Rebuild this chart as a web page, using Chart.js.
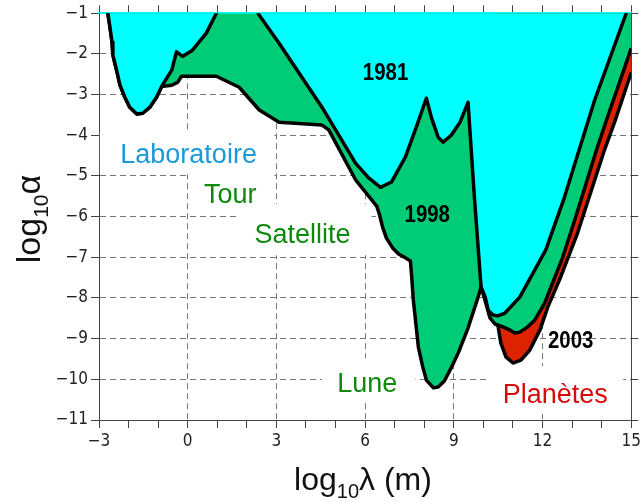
<!DOCTYPE html>
<html>
<head>
<meta charset="utf-8">
<script src="https://cdn.jsdelivr.net/npm/chart.js@4.4.0/dist/chart.umd.min.js"></script>
<style>
  html, body { margin: 0; padding: 0; background: #fff; }
</style>
</head>
<body>
<canvas id="chart" width="644" height="502"></canvas>
<script>
/* Excluded regions, log10(lambda) vs log10(alpha) */
const lambda1981 = [-3.0, -2.70, -2.63, -2.56, -2.53, -2.39, -2.29, -2.13, -1.96, -1.72, -1.52, -1.28, -1.05, -0.88, -0.54, -0.38, -0.17, 0.16, 0.63, 0.97, 1.70, 2.42, 3.09, 4.54, 5.68, 6.12, 6.52, 6.89, 7.36, 7.73, 8.07, 8.24, 8.47, 8.64, 8.91, 9.21, 9.48, 9.69, 9.92, 10.06, 10.16, 10.32, 10.49, 10.73, 11.23, 12.11, 12.71, 13.76, 14.83, 15.0];
const alpha1981 = [-0.3, -1.0, -1.34, -1.71, -2.03, -2.45, -2.77, -3.06, -3.31, -3.48, -3.46, -3.31, -3.06, -2.80, -2.40, -1.95, -2.06, -1.91, -1.49, -1.0, -0.2, -1.05, -1.74, -3.31, -4.69, -5.05, -5.28, -5.15, -4.54, -3.80, -3.09, -3.56, -4.05, -4.17, -4.00, -3.68, -3.19, -5.47, -7.73, -7.98, -8.30, -8.42, -8.44, -8.37, -7.98, -6.82, -5.59, -3.14, -1.0, -0.66];

const lambda1998 = [-3.0, -2.70, -2.63, -2.56, -2.53, -2.39, -2.29, -2.13, -1.96, -1.72, -1.52, -1.28, -1.05, -0.88, -0.54, -0.34, -0.21, 0.97, 1.74, 2.42, 3.09, 4.54, 4.77, 5.68, 6.22, 6.39, 6.49, 6.59, 6.72, 6.93, 7.13, 7.33, 7.53, 7.57, 7.63, 7.80, 7.94, 8.07, 8.31, 8.47, 8.68, 8.91, 9.15, 9.48, 9.82, 9.92, 10.09, 10.22, 10.39, 10.66, 10.90, 11.06, 11.23, 11.50, 11.74, 12.07, 12.68, 13.12, 13.82, 14.16, 15.0];
const alpha1998 = [-0.3, -1.0, -1.34, -1.71, -2.03, -2.45, -2.77, -3.06, -3.31, -3.48, -3.46, -3.31, -3.06, -2.80, -2.77, -2.70, -2.55, -2.55, -2.82, -3.38, -3.68, -3.75, -3.87, -5.10, -5.59, -5.74, -5.96, -6.26, -6.53, -6.77, -6.92, -7.0, -7.09, -7.44, -8.05, -9.21, -9.67, -10.02, -10.21, -10.19, -10.04, -9.72, -9.35, -8.74, -7.98, -7.73, -8.15, -8.49, -8.64, -8.71, -8.79, -8.86, -8.84, -8.71, -8.54, -8.13, -7.0, -6.01, -4.37, -3.63, -1.86];

const lambda2003 = [10.49, 10.59, 10.76, 11.0, 11.27, 11.57, 11.91, 12.18, 12.61, 13.18, 14.09, 14.46, 15.0];
const alpha2003 = [-8.67, -9.11, -9.45, -9.60, -9.53, -9.28, -8.79, -8.22, -7.49, -6.41, -4.37, -3.63, -2.45];

const xRange = [-3, 15];
const yRange = [-11, -1];

/* text labels, in data coordinates */
const zoneNames = ['Laboratoire', 'Tour', 'Satellite', 'Lune', 'Planètes'];
const zoneX = [0.03, 1.44, 3.88, 6.07, 12.43];
const zoneY = [-4.69, -5.67, -6.65, -10.31, -10.58];
const zoneColors = ['#1a9ad6', '#0b8a0b', '#0b8a0b', '#0b8a0b', '#d50c0c'];
const yearNames = ['1981', '1998', '2003'];
const yearX = [6.69, 8.10, 12.95];
const yearY = [-2.65, -6.14, -9.23];
// white patches behind the zone names: [x0, x1, yTop, yBottom]
const labelBoxes = [
    [-2.97, 2.93, -3.90, -4.96],
    [0.06, 2.93, -4.91, -5.79],
    [1.64, 6.22, -5.69, -6.95],
    [4.54, 7.70, -9.48, -10.56],
    [10.09, 14.73, -9.67, -10.85]
];

const FONT = '"Liberation Sans", Arial, sans-serif';
const TICK_FONT = '"DejaVu Sans Condensed", "DejaVu Sans", sans-serif';
const CLEAR = 'rgba(0,0,0,0)';

function toPoints(xs, ys) {
    return xs.map((x, i) => ({ x: x, y: ys[i] }));
}

function fmt(v) {
    return v < 0 ? '\u2212' + Math.abs(v) : String(v);
}

/* Text with a subscript, centred on cx */
function drawSubText(ctx, parts, cx, cy) {
    let w = 0;
    parts.forEach(p => {
        ctx.font = p[1] + 'px ' + FONT;
        w += ctx.measureText(p[0]).width;
    });
    let x = cx - w / 2;
    ctx.textAlign = 'left';
    ctx.textBaseline = 'alphabetic';
    parts.forEach(p => {
        ctx.font = p[1] + 'px ' + FONT;
        ctx.fillText(p[0], x, cy + p[2]);
        x += ctx.measureText(p[0]).width;
    });
}

const labelPlugin = {
    id: 'labelPlugin',
    afterDraw(chart) {
        const ctx = chart.ctx;
        const xs = chart.scales.x;
        const ys = chart.scales.y;
        ctx.save();

        ctx.fillStyle = '#fff';
        labelBoxes.forEach(b => {
            const x0 = xs.getPixelForValue(b[0]);
            const x1 = xs.getPixelForValue(b[1]);
            const y0 = ys.getPixelForValue(b[2]);
            const y1 = ys.getPixelForValue(b[3]);
            ctx.fillRect(x0, y0, x1 - x0, y1 - y0);
        });

        ctx.textAlign = 'center';
        ctx.textBaseline = 'alphabetic';
        ctx.font = '27px ' + FONT;
        zoneNames.forEach((t, i) => {
            ctx.fillStyle = zoneColors[i];
            ctx.fillText(t, xs.getPixelForValue(zoneX[i]), ys.getPixelForValue(zoneY[i]));
        });

        ctx.fillStyle = '#000';
        ctx.font = 'bold 24px ' + FONT;
        yearNames.forEach((t, i) => {
            ctx.save();
            ctx.translate(xs.getPixelForValue(yearX[i]), ys.getPixelForValue(yearY[i]));
            ctx.scale(0.85, 1);
            ctx.fillText(t, 0, 0);
            ctx.restore();
        });

        // axis titles
        ctx.fillStyle = '#111';
        drawSubText(ctx, [['log', 32, 0], ['10', 20, 8], ['\u03bb (m)', 32, 0]], 363, 490);
        ctx.save();
        ctx.translate(40, 219);
        ctx.rotate(-Math.PI / 2);
        drawSubText(ctx, [['log', 34, 0], ['10', 21, 8], ['\u03b1', 34, 0]], 0, 0);
        ctx.restore();

        ctx.restore();
    }
};

function curve(label, xs, ys, color) {
    return {
        label: label,
        data: toPoints(xs, ys),
        borderColor: '#000',
        borderWidth: 3.5,
        backgroundColor: color,
        fill: 'end',
        pointRadius: 0,
        tension: 0,
        clip: 0,
        borderJoinStyle: 'round'
    };
}

const ctx = document.getElementById('chart').getContext('2d');
const chart = new Chart(ctx, {
    type: 'line',
    data: {
        datasets: [
            curve('1981', lambda1981, alpha1981, '#00ffff'),
            curve('1998', lambda1998, alpha1998, '#00cc77'),
            curve('2003', lambda2003, alpha2003, '#dd2200')
        ]
    },
    options: {
        responsive: false,
        animation: false,
        events: [],
        layout: { padding: 0 },
        plugins: {
            legend: { display: false },
            tooltip: { enabled: false }
        },
        scales: {
            x: {
                type: 'linear',
                position: 'bottom',
                min: xRange[0],
                max: xRange[1],
                z: 1,
                afterFit: s => { s.height = 82; },
                ticks: {
                    stepSize: 1,
                    autoSkip: false,
                    maxRotation: 0,
                    padding: 3,
                    color: '#222',
                    font: { family: TICK_FONT, size: 17 },
                    callback: v => (v % 3 === 0 ? fmt(v) : '')
                },
                grid: {
                    color: c => (c.tick && c.tick.value % 3 === 0 && c.tick.value > xRange[0] && c.tick.value < xRange[1]) ? '#777' : CLEAR,
                    tickColor: '#444',
                    tickLength: 8
                },
                border: { color: '#444', dash: [6, 4] }
            },
            x2: {
                type: 'linear',
                position: 'top',
                min: xRange[0],
                max: xRange[1],
                z: 1,
                afterFit: s => { s.height = 13; },
                ticks: { display: false, stepSize: 1 },
                grid: { drawOnChartArea: false, tickLength: 8, tickColor: '#444' },
                border: { color: '#00ffff', width: 2 }
            },
            y: {
                type: 'linear',
                position: 'left',
                min: yRange[0],
                max: yRange[1],
                z: 1,
                afterFit: s => { s.width = 99; },
                ticks: {
                    stepSize: 1,
                    padding: 3,
                    color: '#222',
                    font: { family: TICK_FONT, size: 17 },
                    callback: v => fmt(v)
                },
                grid: {
                    color: c => (c.tick && c.tick.value > yRange[0] && c.tick.value < yRange[1]) ? '#777' : CLEAR,
                    tickColor: '#444',
                    tickLength: 8
                },
                border: { color: '#444', dash: [6, 4] }
            },
            y2: {
                type: 'linear',
                position: 'right',
                min: yRange[0],
                max: yRange[1],
                z: 1,
                afterFit: s => { s.width = 10; },
                ticks: { display: false, stepSize: 1 },
                grid: { drawOnChartArea: false, tickLength: 7, tickColor: '#444' },
                border: { color: '#444' }
            }
        }
    },
    plugins: [labelPlugin]
});
</script>
</body>
</html>
